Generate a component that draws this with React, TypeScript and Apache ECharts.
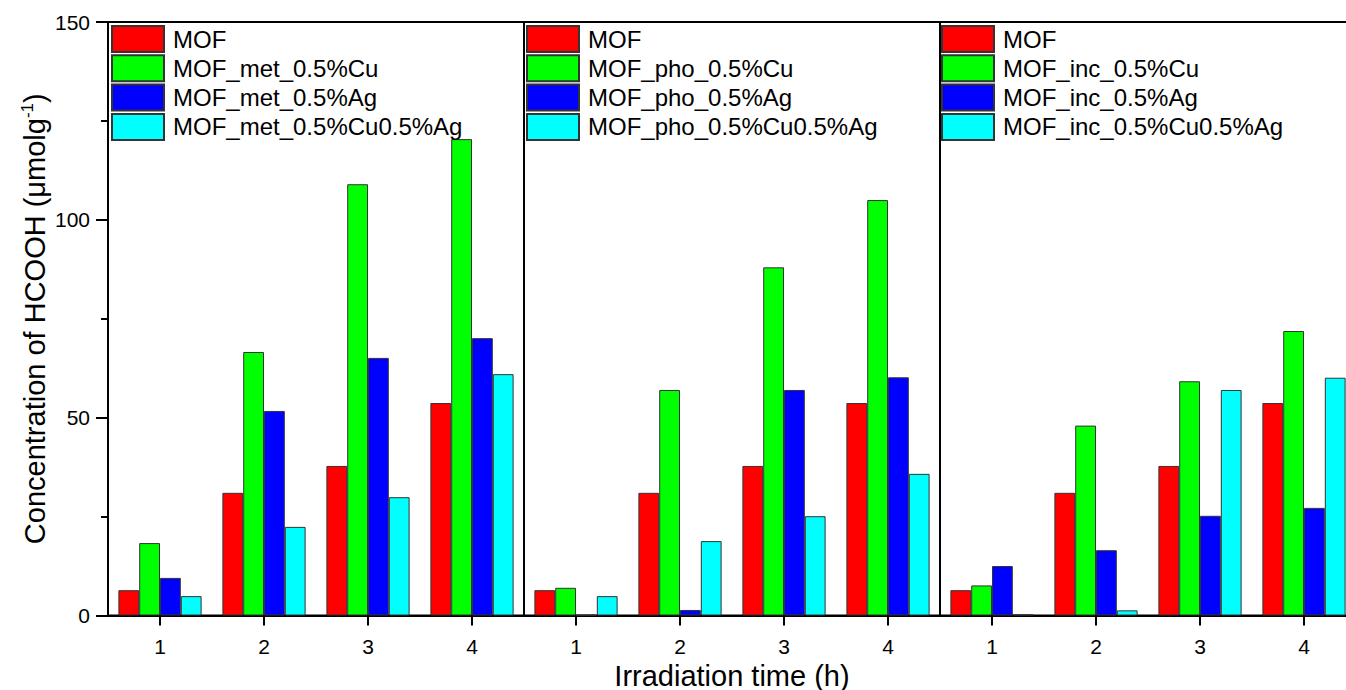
import React, { useEffect, useRef } from "react";
import * as echarts from "echarts";

const categories = ["1", "2", "3", "4"];
const yTicks = { min: 0, max: 150, interval: 50 };

const panelNames = [
  ["MOF", "MOF_met_0.5%Cu", "MOF_met_0.5%Ag", "MOF_met_0.5%Cu0.5%Ag"],
  ["MOF", "MOF_pho_0.5%Cu", "MOF_pho_0.5%Ag", "MOF_pho_0.5%Cu0.5%Ag"],
  ["MOF", "MOF_inc_0.5%Cu", "MOF_inc_0.5%Ag", "MOF_inc_0.5%Cu0.5%Ag"],
];

const mofValues = [6.4, 31, 37.8, 53.7];

const metCu = [18.3, 66.6, 109, 120.4];
const metAg = [9.5, 51.7, 65.1, 70.1];
const metCuAg = [4.9, 22.4, 29.9, 61];

const phoCu = [7, 57, 88, 105];
const phoAg = [0.2, 1.4, 57, 60.2];
const phoCuAg = [4.9, 18.8, 25.1, 35.8];

const incCu = [7.6, 48, 59.2, 71.9];
const incAg = [12.5, 16.5, 25.2, 27.2];
const incCuAg = [0.3, 1.3, 57, 60.1];

const panelData = [
  [mofValues, metCu, metAg, metCuAg],
  [mofValues, phoCu, phoAg, phoCuAg],
  [mofValues, incCu, incAg, incCuAg],
];

const colors = ["#FF0000", "#00FF00", "#0000FF", "#00FFFF"];

const FONT = "Liberation Sans, Arial, sans-serif";

export default function App() {
  const ref = useRef<HTMLDivElement>(null);

  useEffect(() => {
    if (!ref.current) return;
    const chart = echarts.init(ref.current, null, { renderer: "svg" });

    const gridLefts = [108, 524, 940];
    const gridWidth = 416;

    const grids = gridLefts.map((left) => ({
      left,
      width: gridWidth,
      top: 22,
      bottom: 74.5,
      show: true,
      borderColor: "#000",
      borderWidth: 2,
      backgroundColor: "transparent",
      containLabel: false,
      outerBoundsMode: "none",
    }));

    const xAxes = gridLefts.map((_, i) => ({
      type: "category",
      gridIndex: i,
      data: categories,
      axisLine: { show: true, lineStyle: { color: "#000", width: 2 } },
      axisTick: {
        show: true,
        alignWithLabel: true,
        length: 10,
        lineStyle: { color: "#000", width: 2 },
      },
      axisLabel: {
        color: "#000",
        fontSize: 21,
        fontFamily: FONT,
        margin: 20,
      },
      splitLine: { show: false },
      name: i === 1 ? "Irradiation time (h)" : "",
      nameLocation: "middle",
      nameGap: 44,
      nameTextStyle: {
        color: "#000",
        fontSize: 29,
        lineHeight: 26,
        fontFamily: FONT,
      },
    }));

    const yAxes = gridLefts.map((_, i) => ({
      type: "value",
      gridIndex: i,
      min: yTicks.min,
      max: yTicks.max,
      interval: yTicks.interval,
      axisLine: { show: true, lineStyle: { color: "#000", width: 2 } },
      axisTick: {
        show: i === 0,
        length: 12,
        lineStyle: { color: "#000", width: 2 },
      },
      minorTick: {
        show: i === 0,
        splitNumber: 2,
        length: 7,
        lineStyle: { color: "#000", width: 2 },
      },
      axisLabel: {
        show: i === 0,
        color: "#000",
        fontSize: 21,
        fontFamily: FONT,
        margin: 18,
      },
      splitLine: { show: false },
      minorSplitLine: { show: false },
      name: i === 0 ? "Concentration of HCOOH (μmolg{sup|-1})" : "",
      nameLocation: "middle",
      nameRotate: 90,
      nameGap: 58,
      nameTextStyle: {
        color: "#000",
        fontSize: 29,
        fontFamily: FONT,
        rich: {
          sup: {
            fontSize: 17,
            fontFamily: FONT,
            color: "#000",
            verticalAlign: "top",
            padding: [0, 0, 14, 0],
          },
        },
      },
    }));

    const series: any[] = [];
    panelData.forEach((group, p) => {
      group.forEach((vals, s) => {
        series.push({
          type: "bar",
          name: panelNames[p][s],
          xAxisIndex: p,
          yAxisIndex: p,
          data: vals,
          barGap: "0%",
          barCategoryGap: "20%",
          itemStyle: {
            color: colors[s],
            borderColor: "#333",
            borderWidth: 1,
          },
        });
      });
    });

    const legendLefts = [111, 526, 941];
    const legends = legendLefts.map((left, p) => ({
      orient: "vertical",
      left,
      top: 25,
      padding: 0,
      itemWidth: 52,
      itemHeight: 26,
      itemGap: 1.3,
      icon: "rect",
      data: panelNames[p],
      selectedMode: false,
      textStyle: {
        color: "#000",
        fontSize: 24,
        lineHeight: 26,
        fontFamily: FONT,
        padding: [0, 0, 0, 4],
      },
    }));

    chart.setOption({
      animation: false,
      backgroundColor: "#fff",
      grid: grids,
      xAxis: xAxes,
      yAxis: yAxes,
      legend: legends,
      series,
    });

    return () => chart.dispose();
  }, []);

  return (
    <div
      ref={ref}
      style={{ position: "fixed", left: 0, top: 0, width: 1346, height: 690 }}
    />
  );
}
